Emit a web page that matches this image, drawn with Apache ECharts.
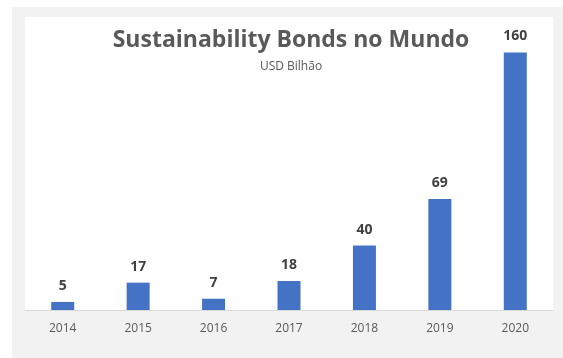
<!DOCTYPE html>
<html lang="en">
<head>
    <meta charset="UTF-8">
    <script src="https://cdn.jsdelivr.net/npm/echarts@6/dist/echarts.min.js"></script>
    <style>
        html, body { margin: 0; padding: 0; background: #fff; }
        #chart { width: 563px; height: 358px; }
    </style>
    <title>Sustainability Bonds</title>
</head>
<body>
    <div id="chart"></div>
    <script type="text/javascript">
        var years = ['2014', '2015', '2016', '2017', '2018', '2019', '2020'];
        var bonds = [5, 17, 7, 18, 40, 69, 160];

        var ec = echarts.init(document.getElementById('chart'));
        var option = {
            backgroundColor: '#fff',
            animation: false,
            graphic: [
                {
                    type: 'rect',
                    z: -10,
                    shape: { x: 12, y: 7, width: 551, height: 351 },
                    style: { fill: '#f2f2f2' }
                }
            ],
            title: {
                text: 'Sustainability Bonds no Mundo',
                subtext: 'USD Bilhão',
                left: 286,
                textAlign: 'center',
                top: 24,
                itemGap: 9,
                textStyle: {
                    fontFamily: 'Open Sans',
                    fontSize: 23,
                    fontWeight: 'bold',
                    color: '#595959'
                },
                subtextStyle: {
                    fontFamily: 'Open Sans',
                    fontSize: 12,
                    color: '#595959'
                }
            },
            grid: {
                left: 25,
                right: 10,
                top: 17,
                bottom: 48,
                show: true,
                backgroundColor: '#fff',
                borderWidth: 0
            },
            xAxis: {
                type: 'category',
                data: years,
                axisLine: { lineStyle: { color: '#d9d9d9' } },
                axisTick: { show: false },
                axisLabel: {
                    margin: 13,
                    fontFamily: 'Open Sans',
                    fontSize: 12,
                    color: '#595959'
                }
            },
            yAxis: {
                type: 'value',
                min: 0,
                max: 182,
                show: false,
                splitLine: { show: false }
            },
            series: [
                {
                    type: 'bar',
                    data: bonds,
                    barWidth: 23,
                    itemStyle: { color: '#4472c4' },
                    label: {
                        show: true,
                        position: 'top',
                        distance: 9,
                        fontFamily: 'Open Sans',
                        fontSize: 14,
                        fontWeight: 'bold',
                        color: '#404040'
                    }
                }
            ]
        };
        ec.setOption(option);
    </script>
</body>
</html>
